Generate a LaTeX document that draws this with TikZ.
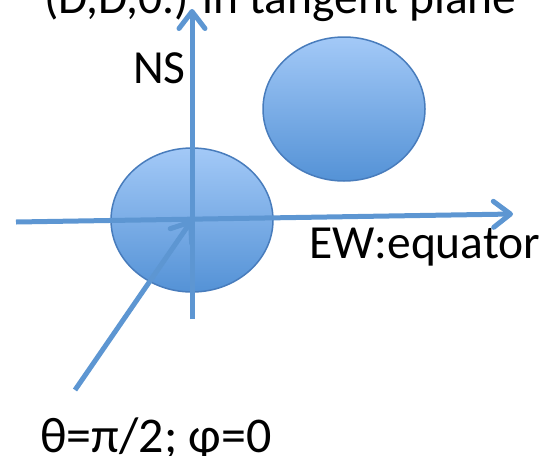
\documentclass[tikz,border=0pt]{standalone}
\usepackage{fontspec}
\setmainfont{Carlito}
\usetikzlibrary{arrows.meta, shapes.geometric}

\definecolor{spotfill}{RGB}{163,201,247}
\definecolor{spotdark}{RGB}{84,146,214}
\definecolor{spotedge}{RGB}{72,124,188}
\definecolor{axisblue}{RGB}{93,150,210}

\begin{document}
\begin{tikzpicture}[
    x=1pt, y=-1pt,
    >={Straight Barb[length=17pt, width=26pt, round]},
    spot/.style={draw=spotedge, line width=1.5pt, ellipse, minimum width=162pt, minimum height=144pt, top color=spotfill, bottom color=spotdark},
    axis/.style={draw=axisblue, line width=5pt},
    lbl/.style={font=\fontsize{47.5}{52}\selectfont, inner sep=0pt, anchor=base west}
]

\useasboundingbox (0,0) rectangle (545,455);
\clip (0,0) rectangle (545,455);

% Spots in the plane
\node[spot] (spot) at (192,220) {};
\node[spot] (spot2) at (344,109) {};

% Axis ends
\coordinate (west) at (16,222);
\coordinate (east) at (513,214);
\coordinate (south) at (192,319);
\coordinate (north) at (192,9);
\coordinate (foot) at (75,390);

% Labels
\node[lbl] (title) at (44,13) {(D,D,0.) in tangent plane};
\node[lbl] (ns) at (133,83) {NS};
\node[lbl] (ew) at (309,258) {EW:equator};
\node[lbl, font=\fontsize{50}{54}\selectfont] (angle) at (40,452) {θ=π/2; φ=0};

% Axes
\draw[axis, ->] (west) -- (east);
\draw[axis, ->] (south) -- (north);
\draw[axis, ->] (foot) -- (spot.center);

\end{tikzpicture}
\end{document}
